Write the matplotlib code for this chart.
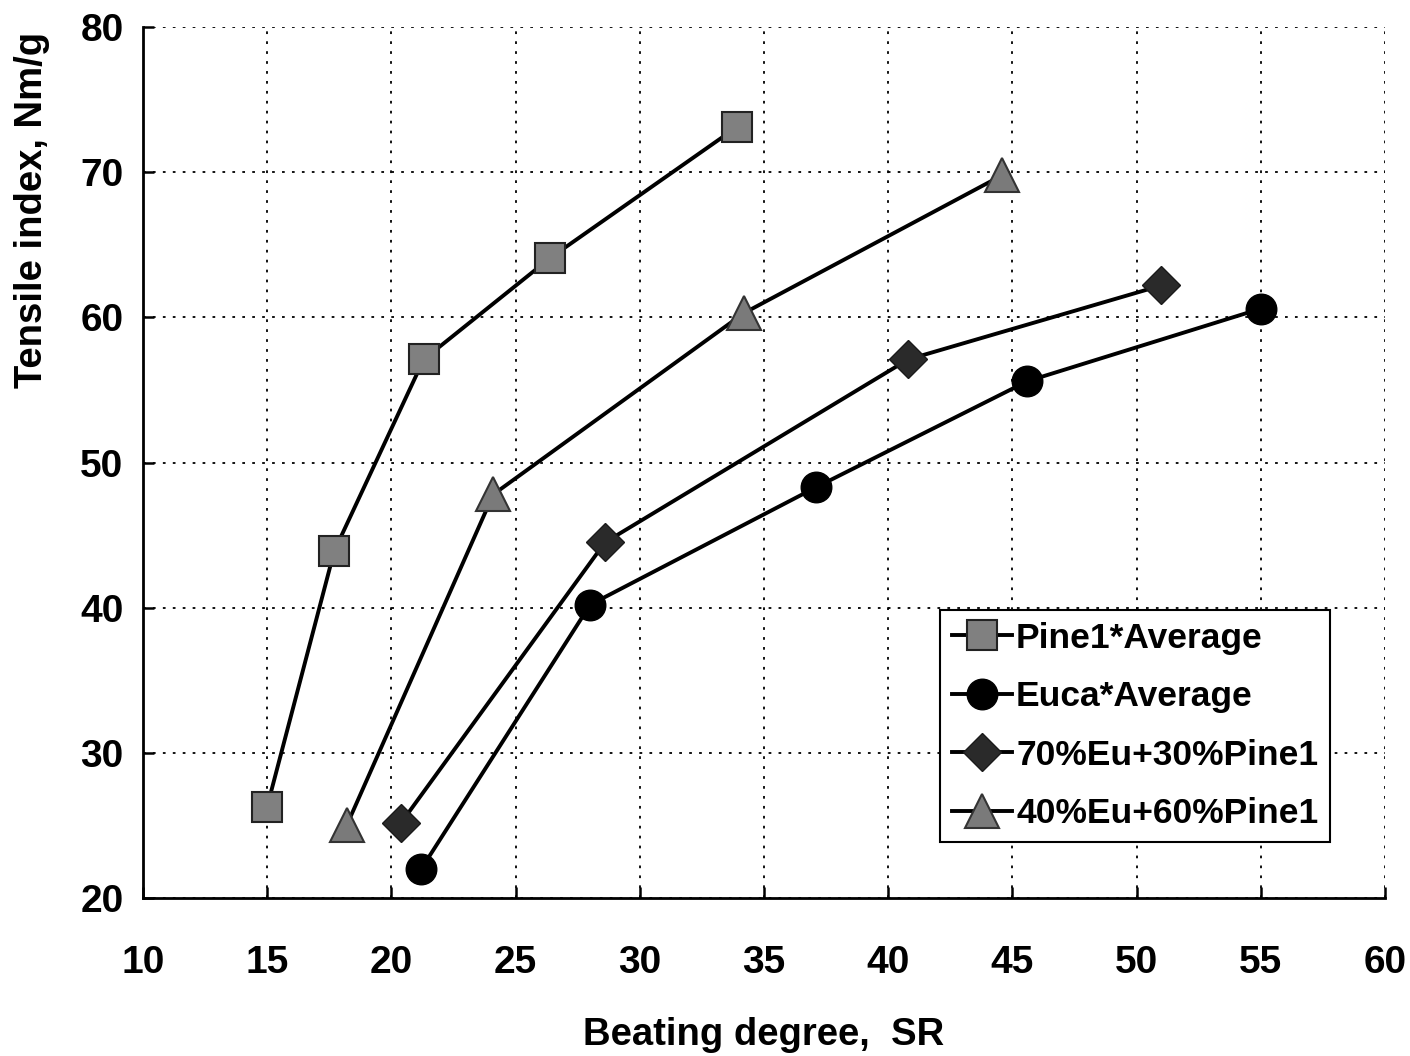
import matplotlib
matplotlib.use("Agg")
import matplotlib.pyplot as plt

plt.rcParams['font.family'] = ['Liberation Sans', 'DejaVu Sans']
plt.rcParams['font.weight'] = 'bold'

# Beating degree (SR) and tensile index (Nm/g) per furnish
pine_x = [15.0, 17.7, 21.3, 26.4, 33.9]
pine_y = [26.3, 43.9, 57.1, 64.1, 73.1]

euca_x = [21.2, 28.0, 37.1, 45.6, 55.0]
euca_y = [22.0, 40.2, 48.3, 55.6, 60.6]

mix70_x = [20.4, 28.6, 40.8, 51.0]
mix70_y = [25.2, 44.5, 57.1, 62.2]

mix40_x = [18.2, 24.1, 34.2, 44.6]
mix40_y = [25.0, 47.8, 60.3, 69.8]

labels = ["Pine1*Average", "Euca*Average", "70%Eu+30%Pine1", "40%Eu+60%Pine1"]
x_ticks = [10, 15, 20, 25, 30, 35, 40, 45, 50, 55, 60]
y_ticks = [20, 30, 40, 50, 60, 70, 80]

fig = plt.figure(figsize=(14.10, 10.56), dpi=100)
ax = fig.add_axes([0.1014, 0.1496, 0.8809, 0.8248])

lw = 2.8
ax.plot(pine_x, pine_y, '-', color='black', lw=lw, marker='s', ms=22,
        mfc='#808080', mec='#222222', mew=1.5, label=labels[0], zorder=3)
ax.plot(euca_x, euca_y, '-', color='black', lw=lw, marker='o', ms=22,
        mfc='black', mec='black', label=labels[1], zorder=3)
ax.plot(mix70_x, mix70_y, '-', color='black', lw=lw, marker='D', ms=19,
        mfc='#2a2a2a', mec='#1a1a1a', label=labels[2], zorder=3)
ax.plot(mix40_x, mix40_y, '-', color='black', lw=lw, marker='^', ms=25,
        mfc='#7a7a7a', mec='#333333', mew=1.5, label=labels[3], zorder=3)

ax.set_xlim(10, 60)
ax.set_ylim(20, 80)
ax.set_xticks(x_ticks)
ax.set_yticks(y_ticks)
ax.tick_params(direction='in', length=8, width=1.8, labelsize=28)
ax.tick_params(axis='x', pad=34)
ax.tick_params(axis='y', pad=14)
for lab in ax.get_xticklabels() + ax.get_yticklabels():
    lab.set_fontweight('bold')

ax.grid(True, linestyle=(0, (1.5, 4)), color='black', lw=1.3)
ax.set_axisbelow(True)
for side in ['top', 'right']:
    ax.spines[side].set_visible(False)
for side in ['left', 'bottom']:
    ax.spines[side].set_linewidth(2)

ax.set_xlabel("Beating degree,  SR", fontsize=27.5, fontweight='bold', labelpad=26)
ax.set_ylabel("Tensile index, Nm/g", fontsize=27.5, fontweight='bold')
ax.yaxis.set_label_coords(-0.075, 0.79)

leg = ax.legend(loc='lower right', bbox_to_anchor=(0.9557, 0.0643), fontsize=25.5,
                frameon=True, fancybox=False, edgecolor='black', framealpha=1,
                handlelength=1.7, handletextpad=0.12, labelspacing=0.72,
                borderpad=0.33, borderaxespad=0, markerscale=1.0)
leg.get_frame().set_linewidth(1.5)
for t in leg.get_texts():
    t.set_fontweight('bold')

fig.savefig("out.png", dpi=100, facecolor='white')
